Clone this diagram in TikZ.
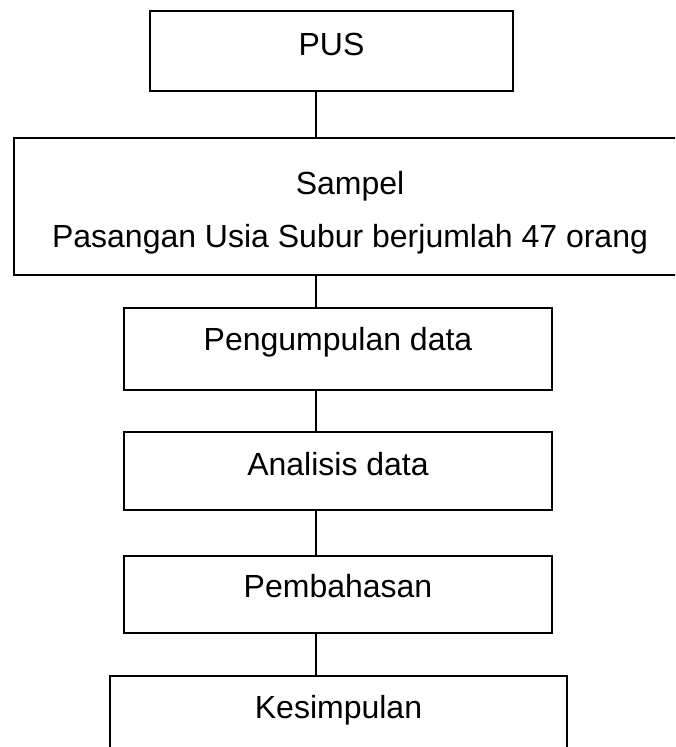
\documentclass[tikz,border=0pt]{standalone}
\usepackage{fontspec}
\setmainfont{Liberation Sans}
\begin{document}
\begin{tikzpicture}[x=1pt,y=-1pt,
  box/.style={draw=black,line width=1.7pt,rectangle,inner sep=0pt},
  txt/.style={anchor=base,inner sep=0pt,font=\fontsize{32}{38}\selectfont},
  conn/.style={draw=black,line width=1.7pt}]
\useasboundingbox (0,0) rectangle (675,747);
\clip (0,0) rectangle (675,747);
\node[box,minimum width=363pt,minimum height=80pt] (pus) at (331.5,51) {};
\node[box,minimum width=676pt,minimum height=137pt] (sampel) at (352,206.5) {};
\node[box,minimum width=428pt,minimum height=82pt] (kumpul) at (338,349) {};
\node[box,minimum width=428pt,minimum height=78pt] (analisis) at (338,471) {};
\node[box,minimum width=428pt,minimum height=77pt] (bahas) at (338,594.5) {};
\node[box,minimum width=457pt,minimum height=94pt] (simpul) at (338.5,723) {};
\node[txt] (tpus) at (331.5,55) {PUS};
\node[txt] (tsampel) at (350,194) {Sampel};
\node[txt] (tpasangan) at (350,247) {Pasangan Usia Subur berjumlah 47 orang};
\node[txt] (tkumpul) at (338,350) {Pengumpulan data};
\node[txt] (tanalisis) at (338,475) {Analisis data};
\node[txt] (tbahas) at (338,597) {Pembahasan};
\node[txt] (tsimpul) at (338.5,718) {Kesimpulan};
\coordinate (cx) at (316,0);
\draw[conn] (pus.south -| cx) -- (sampel.north -| cx);
\draw[conn] (sampel.south -| cx) -- (kumpul.north -| cx);
\draw[conn] (kumpul.south -| cx) -- (analisis.north -| cx);
\draw[conn] (analisis.south -| cx) -- (bahas.north -| cx);
\draw[conn] (bahas.south -| cx) -- (simpul.north -| cx);
\end{tikzpicture}
\end{document}
